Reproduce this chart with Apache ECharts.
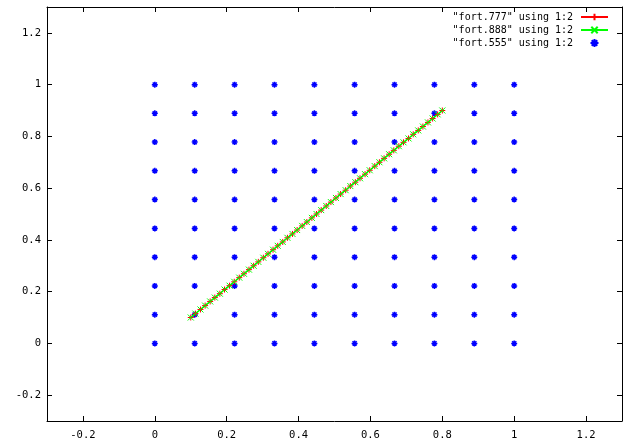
<!DOCTYPE html>
<html>
<head>
<meta charset="utf-8">
<script src="https://cdn.jsdelivr.net/npm/echarts@6/dist/echarts.min.js"></script>
<style>html,body{margin:0;padding:0;background:#fff}#c{width:629px;height:445px}</style>
</head>
<body>
<div id="c"></div>
<script>
// ---- data ----
const xTicks = [-0.2, 0, 0.2, 0.4, 0.6, 0.8, 1, 1.2];
const yTicks = [-0.2, 0, 0.2, 0.4, 0.6, 0.8, 1, 1.2];
const seriesNames = ['"fort.777" using 1:2', '"fort.888" using 1:2', '"fort.555" using 1:2'];
// fort.777 / fort.888: diagonal trajectory
const lineX = [0.100,0.113,0.127,0.140,0.154,0.167,0.181,0.194,0.208,0.221,0.235,0.248,0.262,0.275,0.288,0.302,0.315,0.329,0.342,0.356,0.369,0.383,0.396,0.410,0.423,0.437,0.450,0.463,0.477,0.490,0.504,0.517,0.531,0.544,0.558,0.571,0.585,0.598,0.612,0.625,0.638,0.652,0.665,0.679,0.692,0.706,0.719,0.733,0.746,0.760,0.773,0.787,0.800];
const lineY = [0.100,0.115,0.131,0.146,0.162,0.177,0.192,0.208,0.223,0.238,0.254,0.269,0.285,0.300,0.315,0.331,0.346,0.362,0.377,0.392,0.408,0.423,0.438,0.454,0.469,0.485,0.500,0.515,0.531,0.546,0.562,0.577,0.592,0.608,0.623,0.638,0.654,0.669,0.685,0.700,0.715,0.731,0.746,0.762,0.777,0.792,0.808,0.823,0.838,0.854,0.869,0.885,0.900];
// fort.555: grid of points
const gridX = [0, 0.111, 0.222, 0.333, 0.444, 0.556, 0.667, 0.778, 0.889, 1];
const gridY = [0, 0.111, 0.222, 0.333, 0.444, 0.556, 0.667, 0.778, 0.889, 1];

const linePts = lineX.map((x, i) => [x, lineY[i]]);
const gridPts = [];
gridX.forEach(x => gridY.forEach(y => gridPts.push([x, y])));

const PLUS = 'path://M0,5L10,5M5,0L5,10';
const CROSS = 'path://M0,0L10,10M0,10L10,0';
const STAR = 'path://M0,5L10,5M5,0L5,10M1.5,1.5L8.5,8.5M1.5,8.5L8.5,1.5';
const FONT = 'DejaVu Sans Mono';

function axisCommon(pos, ticks, showLabel) {
  return {
    type: 'value', position: pos, min: -0.3, max: 1.3,
    axisLine: { show: true, onZero: false, lineStyle: { color: '#000', width: 1 } },
    axisTick: { show: true, inside: true, length: 5, customValues: ticks, lineStyle: { color: '#000', width: 1 } },
    axisLabel: { show: showLabel, customValues: ticks, color: '#000', fontFamily: FONT, fontSize: 10.5,
                 margin: pos === 'left' ? 6 : 9, formatter: v => String(v) },
    splitLine: { show: false }
  };
}

const chart = echarts.init(document.getElementById('c'), null, { renderer: 'canvas' });
chart.setOption({
  animation: false,
  backgroundColor: '#fff',
  grid: { left: 47, right: 7, top: 7, bottom: 24 },
  xAxis: [axisCommon('bottom', xTicks, true), axisCommon('top', xTicks, false)],
  yAxis: [axisCommon('left', yTicks, true), axisCommon('right', yTicks, false)],
  legend: {
    right: 20, top: 11, orient: 'vertical', align: 'right', padding: 0,
    itemWidth: 27, itemHeight: 8, itemGap: 1,
    textStyle: { fontFamily: FONT, fontSize: 10, lineHeight: 12, color: '#000', padding: [0, 3, 0, 0] },
    data: seriesNames
  },
  series: [
    { name: seriesNames[0], type: 'line', data: linePts, symbol: PLUS, symbolSize: 6, showAllSymbol: true,
      lineStyle: { color: '#ff0000', width: 1 },
      itemStyle: { color: '#ff0000', borderColor: '#ff0000', borderWidth: 1 } },
    { name: seriesNames[1], type: 'line', data: linePts, symbol: CROSS, symbolSize: 6, showAllSymbol: true,
      lineStyle: { color: '#00ff00', width: 1.5 },
      itemStyle: { color: '#00ff00', borderColor: '#00ff00', borderWidth: 1 } },
    { name: seriesNames[2], type: 'scatter', data: gridPts, symbol: STAR, symbolSize: 6,
      itemStyle: { color: '#0000ff', borderColor: '#0000ff', borderWidth: 1.5, opacity: 1 } }
  ]
});
</script>
</body>
</html>
